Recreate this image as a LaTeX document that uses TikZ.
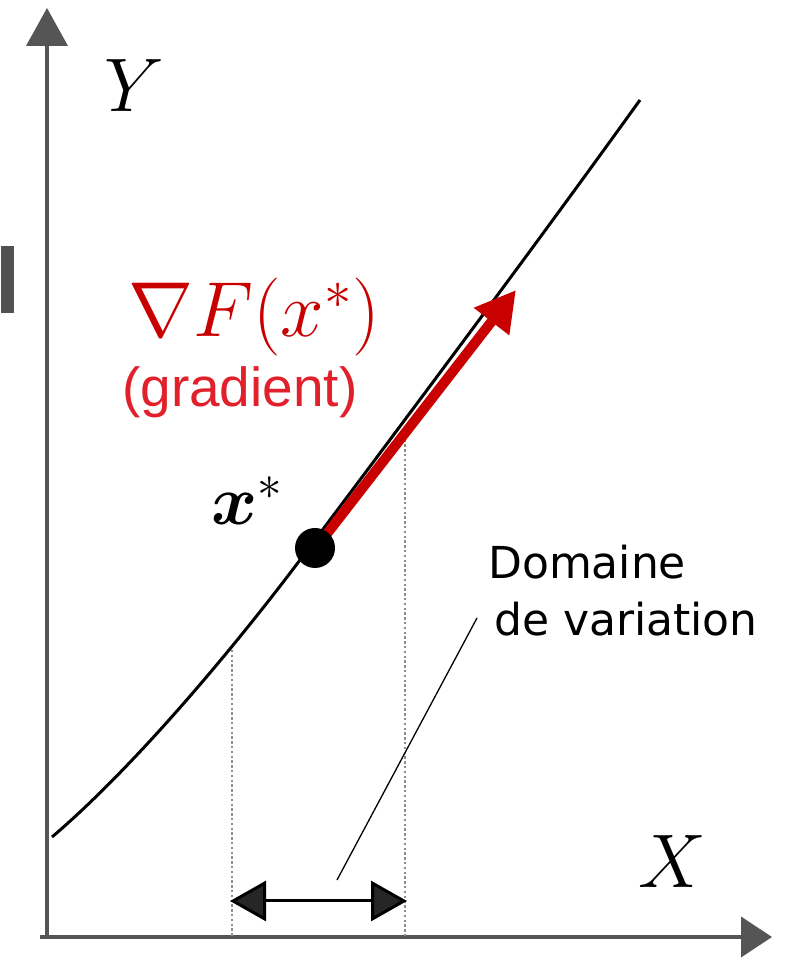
\RequirePackage{fix-cm}
\documentclass[tikz,border=0pt]{standalone}
\usepackage{amsmath}
\usepackage{bm}
\usepackage{fontspec}
\usetikzlibrary{arrows.meta}
\newfontfamily\labelsans{DejaVu Sans}
\newfontfamily\arialsans{Liberation Sans}
\definecolor{axisgray}{HTML}{555555}
\definecolor{gradred}{HTML}{C80000}
\definecolor{textred}{HTML}{E0202A}
\tikzset{
  axisline/.style={draw=axisgray, line width=4pt},
  guide/.style={draw=gray!110!black, line width=2.4pt, dash pattern=on 2.4pt off 2.4pt},
  curveline/.style={draw=black, line width=3pt},
}
\begin{document}
\begin{tikzpicture}[x=1pt,y=1pt]
\useasboundingbox (0,0) rectangle (784,960);
% coordinates (pixel y flipped)
\coordinate (yb) at (47,23);
\coordinate (yt) at (47,952);
\coordinate (xl) at (40,23);
\coordinate (xr) at (772,23);
\coordinate (xs) at (315,412);
\coordinate (ga) at (326,425);
\coordinate (gb) at (516,670);
\coordinate (d1t) at (232,310);
\coordinate (d1b) at (232,23);
\coordinate (d2t) at (405,530);
\coordinate (d2b) at (405,23);
\coordinate (ra) at (230,59);
\coordinate (rb) at (407,59);
\coordinate (la) at (337,80);
\coordinate (lb) at (477,342);
% gray bar
\fill[fill=axisgray!95!black] (1,647) rectangle (14,714);
% axes
\draw[axisline, -{Triangle[length=38pt,width=41pt]}] (yb) -- (yt);
\draw[axisline, -{Triangle[length=31pt,width=40pt]}] (xl) -- (xr);
% dotted guides
\draw[guide] (d1t) -- (d1b);
\draw[guide] (d2t) -- (d2b);
% curve
\draw[curveline] (52,123) .. controls (132,191) and (230,307) .. (300,400)
                 .. controls (413,551) and (527,703) .. (640,860);
% gradient arrow
\draw[draw=gradred, line width=10pt, -{Triangle[length=40pt,width=42pt]}] (ga) -- (gb);
% point
\node[circle, fill=black, minimum size=40pt, inner sep=0pt] (pt) at (xs) {};
% range arrow
\draw[draw=black, line width=3pt, {Triangle[length=36pt,width=40pt,fill=black!85]}-{Triangle[length=36pt,width=40pt,fill=black!85]}] (ra) -- (rb);
% leader
\draw[line width=1.3pt] (la) -- (lb);
% labels
\node[font=\fontsize{76}{84}\selectfont, anchor=base west, inner sep=0pt] (ylab) at (104,848) {$Y$};
\node[font=\fontsize{76}{84}\selectfont, anchor=base west, inner sep=0pt] (xlab) at (638,72) {$X$};
\node[font=\fontsize{70}{80}\selectfont, anchor=base west, inner sep=0pt] (xstar) at (211,435) {$\bm{x}^{*}$};
\node[text=gradred, font=\fontsize{78}{86}\selectfont, anchor=base west, inner sep=0pt] (gradf) at (128,623) {$\nabla F(x^{*})$};
\node[text=textred, font=\arialsans\fontsize{55}{60}\selectfont, anchor=base west, inner sep=0pt] (gradt) at (122,553) {(gradient)};
\node[font=\labelsans\fontsize{44}{50}\selectfont, anchor=base west, inner sep=0pt] (dom1) at (488,381) {Domaine};
\node[font=\labelsans\fontsize{44}{50}\selectfont, anchor=base west, inner sep=0pt] (dom2) at (494,324) {de variation};
\end{tikzpicture}
\end{document}
